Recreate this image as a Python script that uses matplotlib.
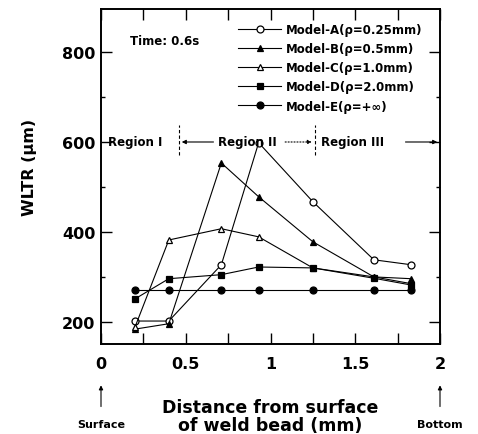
import matplotlib
matplotlib.use("Agg")
import matplotlib.pyplot as plt
from matplotlib.ticker import MultipleLocator

plt.rcParams['font.family'] = ['DejaVu Sans']

x_pos = [0.20, 0.40, 0.71, 0.93, 1.25, 1.61, 1.83]
model_a = [202, 202, 327, 598, 467, 338, 327]
model_b = [184, 196, 553, 478, 378, 300, 296]
model_c = [188, 382, 407, 389, 320, 300, 285]
model_d = [251, 296, 305, 322, 320, 297, 282]
model_e = [270, 270, 270, 270, 270, 270, 270]

labels = ["Model-A(ρ=0.25mm)", "Model-B(ρ=0.5mm)", "Model-C(ρ=1.0mm)",
          "Model-D(ρ=2.0mm)", "Model-E(ρ=+∞)"]
markers = ['o', '^', '^', 's', 'o']
fills = ['white', 'black', 'white', 'black', 'black']
series = [model_a, model_b, model_c, model_d, model_e]

fig = plt.figure(figsize=(4.78, 4.35), dpi=100)
ax = fig.add_axes([101/478, 1-345/435, 339/478, 335/435])

for ys, lab, m, fc in zip(series, labels, markers, fills):
    ax.plot(x_pos, ys, color='black', lw=0.8, marker=m, markersize=5,
            markerfacecolor=fc, markeredgecolor='black', markeredgewidth=0.9,
            label=lab)

ax.set_xlim(0, 2)
ax.set_ylim(151, 895)
ax.xaxis.set_major_locator(MultipleLocator(0.5))
ax.xaxis.set_minor_locator(MultipleLocator(0.25))
ax.yaxis.set_major_locator(MultipleLocator(200))
ax.yaxis.set_minor_locator(MultipleLocator(100))
ax.set_xticklabels([])
ax.tick_params(which='both', direction='in', top=True, right=True, width=1.0)
ax.tick_params(which='major', length=8)
ax.tick_params(axis='y', which='minor', length=3)
ax.tick_params(axis='x', which='minor', length=8)
ax.tick_params(axis='y', labelsize=11.5, pad=4)
for lbl in ax.get_yticklabels():
    lbl.set_fontweight('bold')
for s in ax.spines.values():
    s.set_linewidth(1.4)

# x tick labels as in figure
xt = [0, 0.5, 1, 1.5, 2]
xtl = ['0', '0.5', '1', '1.5', '2']
for v, t in zip(xt, xtl):
    ax.text(v, -0.035, t, transform=ax.get_xaxis_transform(), ha='center', va='top',
            fontsize=11.5, fontweight='bold')

ax.set_ylabel("WLTR (μm)", fontsize=11.5, fontweight='bold')
ax.yaxis.set_label_coords(-0.19, 0.53)

leg = ax.legend(loc='upper left', bbox_to_anchor=(0.405, 0.958), frameon=False,
                fontsize=8.5, handlelength=3.6, labelspacing=0.52, borderaxespad=0.0,
                handletextpad=0.4, borderpad=0.0)
for t in leg.get_texts():
    t.set_fontweight('bold')

ax.text(0.085, 0.905, "Time: 0.6s", transform=ax.transAxes, fontsize=8.5,
        fontweight='bold', ha='left', va='center')

# Region annotations
yr = 0.603
fs_r = 8.5
ax.text(0.02, yr, "Region Ⅰ", transform=ax.transAxes, fontsize=fs_r, fontweight='bold',
        ha='left', va='center')
ax.axvline(0.46, ymin=yr-0.04, ymax=yr+0.05, color='black', lw=0.8, ls=(0, (3, 2)))
ax.axvline(1.26, ymin=yr-0.04, ymax=yr+0.05, color='black', lw=0.8, ls=(0, (3, 2)))
ax.annotate('', xy=(0.46, yr), xytext=(0.68, yr), xycoords=('data', 'axes fraction'),
            arrowprops=dict(arrowstyle='-|>', lw=0.8, color='black', mutation_scale=6))
ax.text(0.69, yr, "Region ⅠⅠ", transform=ax.get_xaxis_transform(), fontsize=fs_r,
        fontweight='bold', ha='left', va='center')
ax.annotate('', xy=(1.26, yr), xytext=(1.07, yr), xycoords=('data', 'axes fraction'),
            arrowprops=dict(arrowstyle='-|>', lw=0.8, color='black', ls=':', mutation_scale=6))
ax.text(1.30, yr, "Region ⅠⅠⅠ", transform=ax.get_xaxis_transform(), fontsize=fs_r,
        fontweight='bold', ha='left', va='center')
ax.annotate('', xy=(2.0, yr), xytext=(1.78, yr), xycoords=('data', 'axes fraction'),
            arrowprops=dict(arrowstyle='-|>', lw=0.8, color='black', mutation_scale=6))

# Surface / Bottom arrows
for v, t in [(0, 'Surface'), (2, 'Bottom')]:
    ax.annotate('', xy=(v, -0.115), xytext=(v, -0.195), xycoords=('data', 'axes fraction'),
                arrowprops=dict(arrowstyle='-|>', lw=0.8, color='black', mutation_scale=6),
                annotation_clip=False)
    ax.text(v, -0.225, t, transform=ax.get_xaxis_transform(), ha='center', va='top',
            fontsize=8, fontweight='bold')

ax.text(0.5, -0.16, "Distance from surface\nof weld bead (mm)", transform=ax.transAxes,
        ha='center', va='top', fontsize=12.5, fontweight='bold', linespacing=1.05)

fig.savefig("out.png", dpi=100)
